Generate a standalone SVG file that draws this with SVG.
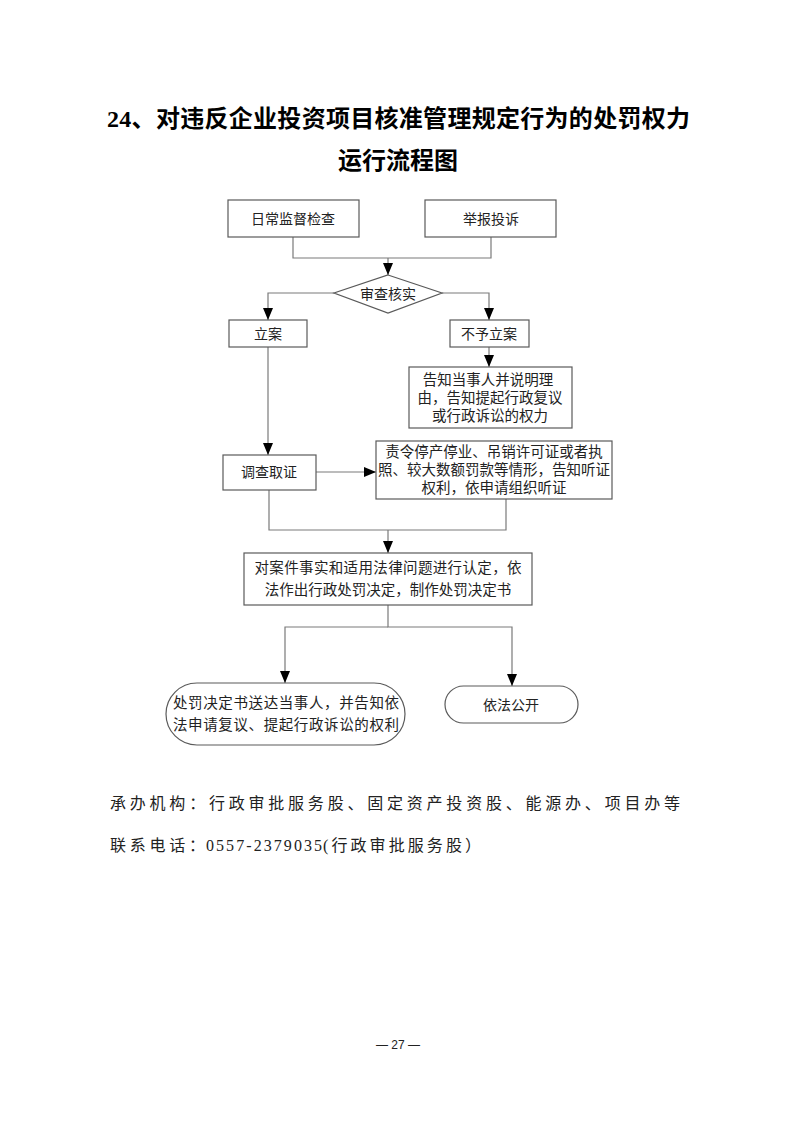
<svg xmlns="http://www.w3.org/2000/svg" width="793" height="1122" viewBox="0 0 793 1122">
<style>
.bg{fill:#ffffff}
.box{fill:#ffffff;stroke:#5a5a5a;stroke-width:1.2}
.ln{fill:none;stroke:#7a7a7a;stroke-width:1.2}
.t{font-family:"Liberation Serif","Noto Sans CJK SC",serif;font-size:14px;fill:#222;text-anchor:middle;dominant-baseline:central}
.tm{font-size:14.5px}
.title{font-family:"Liberation Serif","Noto Sans CJK SC",serif;font-size:24px;font-weight:bold;fill:#000}
.foot{font-family:"Liberation Serif","Noto Sans CJK SC",serif;font-size:16px;fill:#222}
.pg{font-family:"Liberation Sans","Noto Sans CJK SC",sans-serif;font-size:12px;fill:#222;text-anchor:middle}
</style>
<defs>
<marker id="ah" markerUnits="userSpaceOnUse" viewBox="0 0 12 10" markerWidth="12" markerHeight="10" refX="12" refY="5" orient="auto">
<path d="M0,0 L12,5 L0,10 z" fill="#000"/>
</marker>
</defs>
<rect class="bg" x="0" y="0" width="793" height="1122"/>

<g id="title">
<text class="title" x="107" y="127" textLength="583" lengthAdjust="spacing">24、对违反企业投资项目核准管理规定行为的处罚权力</text>
<text class="title" x="398" y="169" text-anchor="middle">运行流程图</text>
</g>

<g id="connectors">
<path class="ln" d="M293,237 V258 H491 V237"/>
<path class="ln" d="M388,258 V275" marker-end="url(#ah)"/>
<path class="ln" d="M334,293 H268 V320" marker-end="url(#ah)"/>
<path class="ln" d="M442,293 H489 V320" marker-end="url(#ah)"/>
<path class="ln" d="M489,347 V367" marker-end="url(#ah)"/>
<path class="ln" d="M268,347 V455" marker-end="url(#ah)"/>
<path class="ln" d="M316,472 H376" marker-end="url(#ah)"/>
<path class="ln" d="M269,490 V530 H506 V499"/>
<path class="ln" d="M388,530 V553" marker-end="url(#ah)"/>
<path class="ln" d="M388,605 V627 H512 V686" marker-end="url(#ah)"/>
<path class="ln" d="M388,627 H285 V683" marker-end="url(#ah)"/>
</g>

<g id="n1">
<rect class="box" x="228" y="200" width="131" height="37"/>
<text class="t" x="293" y="219">日常监督检查</text>
</g>
<g id="n2">
<rect class="box" x="425" y="200" width="131" height="37"/>
<text class="t" x="491" y="219">举报投诉</text>
</g>
<g id="n3">
<polygon class="box" points="388,275 442,293 388,313 334,293"/>
<text class="t" x="388" y="294">审查核实</text>
</g>
<g id="n4">
<rect class="box" x="229" y="320" width="78" height="27"/>
<text class="t" x="268" y="334">立案</text>
</g>
<g id="n5">
<rect class="box" x="450" y="320" width="79" height="27"/>
<text class="t" x="489" y="334">不予立案</text>
</g>
<g id="n6">
<rect class="box" x="409" y="367" width="163" height="61"/>
<text class="t tm" x="488" y="380">告知当事人并说明理</text>
<text class="t tm" x="490" y="398">由，告知提起行政复议</text>
<text class="t tm" x="490" y="416">或行政诉讼的权力</text>
</g>
<g id="n7">
<rect class="box" x="223" y="455" width="93" height="35"/>
<text class="t" x="269" y="472">调查取证</text>
</g>
<g id="n8">
<rect class="box" x="376" y="441" width="236" height="58"/>
<text class="t tm" x="494" y="452">责令停产停业、吊销许可证或者执</text>
<text class="t tm" x="494" y="470">照、较大数额罚款等情形，告知听证</text>
<text class="t tm" x="494" y="488">权利，依申请组织听证</text>
</g>
<g id="n9">
<rect class="box" x="244" y="553" width="288" height="52"/>
<text class="t tm" x="388" y="568" textLength="267" lengthAdjust="spacing">对案件事实和适用法律问题进行认定，依</text>
<text class="t tm" x="388" y="590">法作出行政处罚决定，制作处罚决定书</text>
</g>
<g id="n10">
<rect class="box" x="166" y="683" width="239" height="62" rx="31" ry="31"/>
<text class="t tm" x="286" y="703" textLength="226" lengthAdjust="spacing">处罚决定书送达当事人，并告知依</text>
<text class="t tm" x="286" y="725" textLength="226" lengthAdjust="spacing">法申请复议、提起行政诉讼的权利</text>
</g>
<g id="n11">
<rect class="box" x="445" y="686" width="133" height="37" rx="18.5" ry="18.5"/>
<text class="t" x="511" y="705">依法公开</text>
</g>

<g id="footer">
<text class="foot" x="110" y="809" textLength="570" lengthAdjust="spacing">承办机构：行政审批服务股、固定资产投资股、能源办、项目办等</text>
<text class="foot" x="110" y="851" textLength="95" lengthAdjust="spacing">联系电话：</text>
<text class="foot" x="206" y="851" font-size="19" textLength="116" lengthAdjust="spacing">0557-2379035</text>
<text class="foot" x="323" y="851" textLength="158" lengthAdjust="spacing">(行政审批服务股）</text>
<text class="pg" x="398" y="1049">— 27 —</text>
</g>
</svg>
